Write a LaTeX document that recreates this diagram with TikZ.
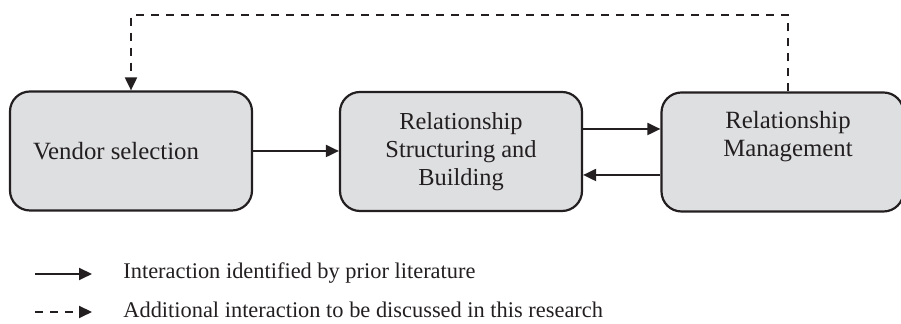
\documentclass[tikz,border=0pt]{standalone}
\usepackage{fontspec}
\setmainfont{Liberation Serif}
\usetikzlibrary{arrows.meta}
\definecolor{boxfill}{HTML}{DEDFE1}
\definecolor{ink}{HTML}{231F20}
\begin{document}
\begin{tikzpicture}[x=0.5pt,y=-0.5pt,
  phase/.style={draw=ink, line width=1.1pt, fill=boxfill, rounded corners=10pt,
    minimum width=121pt, minimum height=59.5pt, align=center,
    font=\fontsize{12.2}{14}\selectfont, text=ink, inner sep=0pt},
  phasetext/.style={align=center, font=\fontsize{12.4}{14}\selectfont, text=ink, inner sep=0pt},
  link/.style={draw=ink, line width=1pt, -{Triangle[length=6.5pt,width=6pt]}},
  extra/.style={link, dash pattern=on 4pt off 3.5pt},
  legendtext/.style={anchor=west, font=\fontsize{11.2}{13}\selectfont, text=ink, inner sep=0pt}]
\useasboundingbox (0,0) rectangle (901,324);

% the three phases
\node[phase] (vendor) at (131,151) {};
\node[phasetext] (vendortext) at (116,151) {Vendor selection};
\node[phase] (build)  at (461,151.5) {Relationship\\Structuring and\\Building};
\node[phase] (manage) at (782.5,152) {};
\node[phasetext] (managetext) at (788,137) {Relationship\\Management};

% interactions from prior literature
\draw[link] (vendor.east |- 0,151) -- (build.west |- 0,151);
\draw[link] (build.east |- 0,129) -- (manage.west |- 0,129);
\draw[link] (manage.west |- 0,175) -- (build.east |- 0,175);

% additional feedback interaction
\coordinate (up1) at (788,15.5);
\coordinate (up2) at (131,15.5);
\draw[extra] (manage.north -| 788,0) -- (up1) -- (up2) -- (vendor.north -| 131,0);

% legend
\coordinate (s1) at (35,274);
\coordinate (e1) at (92,274);
\coordinate (s2) at (35,312);
\coordinate (e2) at (92,312);
\draw[link] (s1) -- (e1);
\draw[extra] (s2) -- (e2);
\node[legendtext] (lg1) at (123,273) {Interaction identified by prior literature};
\node[legendtext] (lg2) at (123,310) {Additional interaction to be discussed in this research};
\end{tikzpicture}
\end{document}
